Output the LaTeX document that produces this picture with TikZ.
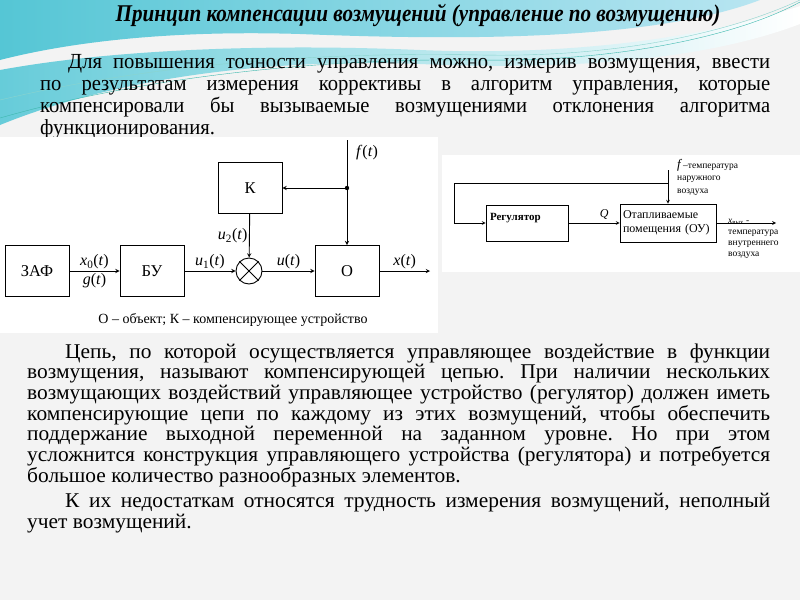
\documentclass[tikz,border=0pt]{standalone}
\usepackage{fontspec}
\setmainfont{Liberation Serif}
\newfontfamily\narrowfont{Liberation Serif}[FakeStretch=0.88]
\newfontfamily\bodyfont{Liberation Serif}[FakeStretch=0.96]
\newfontfamily\widefont{Liberation Serif}[FakeStretch=1.02]
\usetikzlibrary{positioning}
\frenchspacing
\definecolor{slidebg}{HTML}{F3F3F3}
\definecolor{tealdeep}{HTML}{55C6D5}
\definecolor{teallight}{HTML}{B8E5F1}
\definecolor{swoosh}{HTML}{3DB8AE}
\tikzset{blk/.style={rectangle,draw,minimum width=64,minimum height=51,inner sep=0,font=\fontsize{16.5}{18}\selectfont},
  sum/.style={circle,draw,minimum size=26,inner sep=0},
  rbox/.style={rectangle,draw,inner sep=0,font=\fontsize{12}{14}\selectfont},
  lbl/.style={font=\fontsize{16}{18}\selectfont,inner sep=1.5},
  txt/.style={inner sep=0,anchor=base west,align=justify}}

\begin{document}
\begin{tikzpicture}[>=stealth,x=1pt,y=-1pt]
    \useasboundingbox (0,0) rectangle (800,600);
    % slide background
    \fill[slidebg] (0,0) rectangle (800,600);
    \shade[left color=tealdeep,right color=teallight] (0,0) -- (760,0) .. controls (650,42) and (450,40) .. (300,34) .. controls (170,30) and (70,42) .. (0,60) -- cycle;
    \shade[left color=tealdeep!90,right color=white] (0,70) .. controls (120,48) and (280,44) .. (420,50) .. controls (560,56) and (700,40) .. (800,6) -- (800,24) .. controls (700,62) and (560,70) .. (420,64) .. controls (260,58) and (110,80) .. (0,125) -- cycle;
    \draw[swoosh] (0,118) .. controls (150,75) and (330,58) .. (480,60) .. controls (620,62) and (740,35) .. (800,2);
    \draw[swoosh!60] (0,100) .. controls (160,62) and (330,52) .. (480,55) .. controls (630,58) and (740,28) .. (800,0);

    % texts
    \node[font=\bfseries\itshape\narrowfont\fontsize{24}{26}\selectfont] (ttl) at (418,15) {Принцип компенсации возмущений (управление по возмущению)};
    \node[txt,text width=730,font={\bodyfont\fontsize{21.5}{22}\selectfont}] (p1) at (40,68.5) {\lineskiplimit=-100pt\relax\hspace*{28pt}Для повышения точности управления можно, измерив возмущения, ввести\linebreak по результатам измерения коррективы в алгоритм управления, которые\linebreak компенсировали бы вызываемые возмущениями отклонения алгоритма\linebreak функционирования.};
    \node[txt,text width=743,font={\widefont\fontsize{21}{20.7}\selectfont}] (p2) at (27,358) {\lineskiplimit=-100pt\relax\setlength{\parskip}{5pt}\hspace*{38pt}Цепь, по которой осуществляется управляющее воздействие в функции\linebreak возмущения, называют компенсирующей цепью. При наличии нескольких\linebreak возмущающих воздействий управляющее устройство (регулятор) должен иметь\linebreak компенсирующие цепи по каждому из этих возмущений, чтобы обеспечить\linebreak поддержание выходной переменной на заданном уровне. Но при этом\linebreak усложнится конструкция управляющего устройства (регулятора) и потребуется\linebreak большое количество разнообразных элементов.\par
    \hspace*{38pt}К их недостаткам относятся трудность измерения возмущений, неполный\linebreak учет возмущений.};

    % left diagram
    \fill[white] (0,137) rectangle (438,333);
    \begin{scope}[line width=0.9pt]
    \node[blk] (zaf) at (37,271) {ЗАФ};
    \node[blk] (bu) at (152,271) {БУ};
    \node[sum] (sm) at (249,271) {};
    \node[blk] (ob) at (347,271) {О};
    \node[blk] (kk) at (250,188) {К};
    \coordinate (ftop) at (347,140);
    \coordinate (jn) at (347,188);
    \coordinate (xout) at (430,271);

    \draw (sm.north east) -- (sm.south west) (sm.north west) -- (sm.south east);
    \draw [->] (zaf) -- node[lbl,above]{\textit{x}\textsubscript{0}(\textit{t})} node[lbl,below]{\textit{g}(\textit{t})} (bu);
    \draw [->] (bu) -- node[lbl,above]{\textit{u}\textsubscript{1}(\textit{t})} (sm);
    \draw [->] (sm) -- node[lbl,above]{\textit{u}(\textit{t})} (ob);
    \draw [->] (kk) -- node[lbl,left]{\textit{u}\textsubscript{2}(\textit{t})} (sm);
    \draw [->] (ftop) -- (ob);
    \draw [->] (jn) -- (kk);
    \draw [->] (ob) -- node[lbl,above]{\textit{x}(\textit{t})} (xout);
    \fill (jn) circle (2.2);
    \node[lbl] (ft) at (367,153) {\textit{f}(\textit{t})};
    \end{scope}
    \node[font=\fontsize{14}{16}\selectfont] (cap) at (233,320) {О – объект; К – компенсирующее устройство};

    % right diagram
    \fill[white] (442,155) rectangle (800,272);
    \begin{scope}[line width=0.7pt]
    \node[rbox,minimum width=82,minimum height=36,text width=74,text depth=12pt,align=left,font=\bfseries\fontsize{11}{13}\selectfont] (reg) at (527,223) {Регулятор};
    \node[rbox,minimum width=96,minimum height=38,text width=90,align=left] (ou) at (668,223) {Отапливаемые\\помещения (ОУ)};
    \coordinate (ftop2) at (668,170);
    \coordinate (fb) at (668,183);
    \coordinate (fbl) at (454,183);
    \coordinate (xend) at (776,223);

    \draw [->] (ftop2) -- (ou);
    \draw [->] (fb) -- (fbl) |- (reg);
    \draw [->] (reg) -- node[pos=0.7,above,font=\fontsize{12}{12}\selectfont\itshape]{Q} (ou);
    \draw [->] (ou) -- (xend);
    \end{scope}
    \node[anchor=north west,align=left,inner sep=0,font=\fontsize{9.5}{12.5}\selectfont] (flbl) at (677,159) {{\fontsize{13}{13}\selectfont\itshape f} –температура\\наружного\\воздуха};
    \node[anchor=north west,align=left,inner sep=0,font=\fontsize{9.5}{11}\selectfont] (xlbl) at (728,219) {{\itshape x}\textsubscript{вых} -\\температура\\внутреннего\\воздуха};
\end{tikzpicture}
\end{document}
